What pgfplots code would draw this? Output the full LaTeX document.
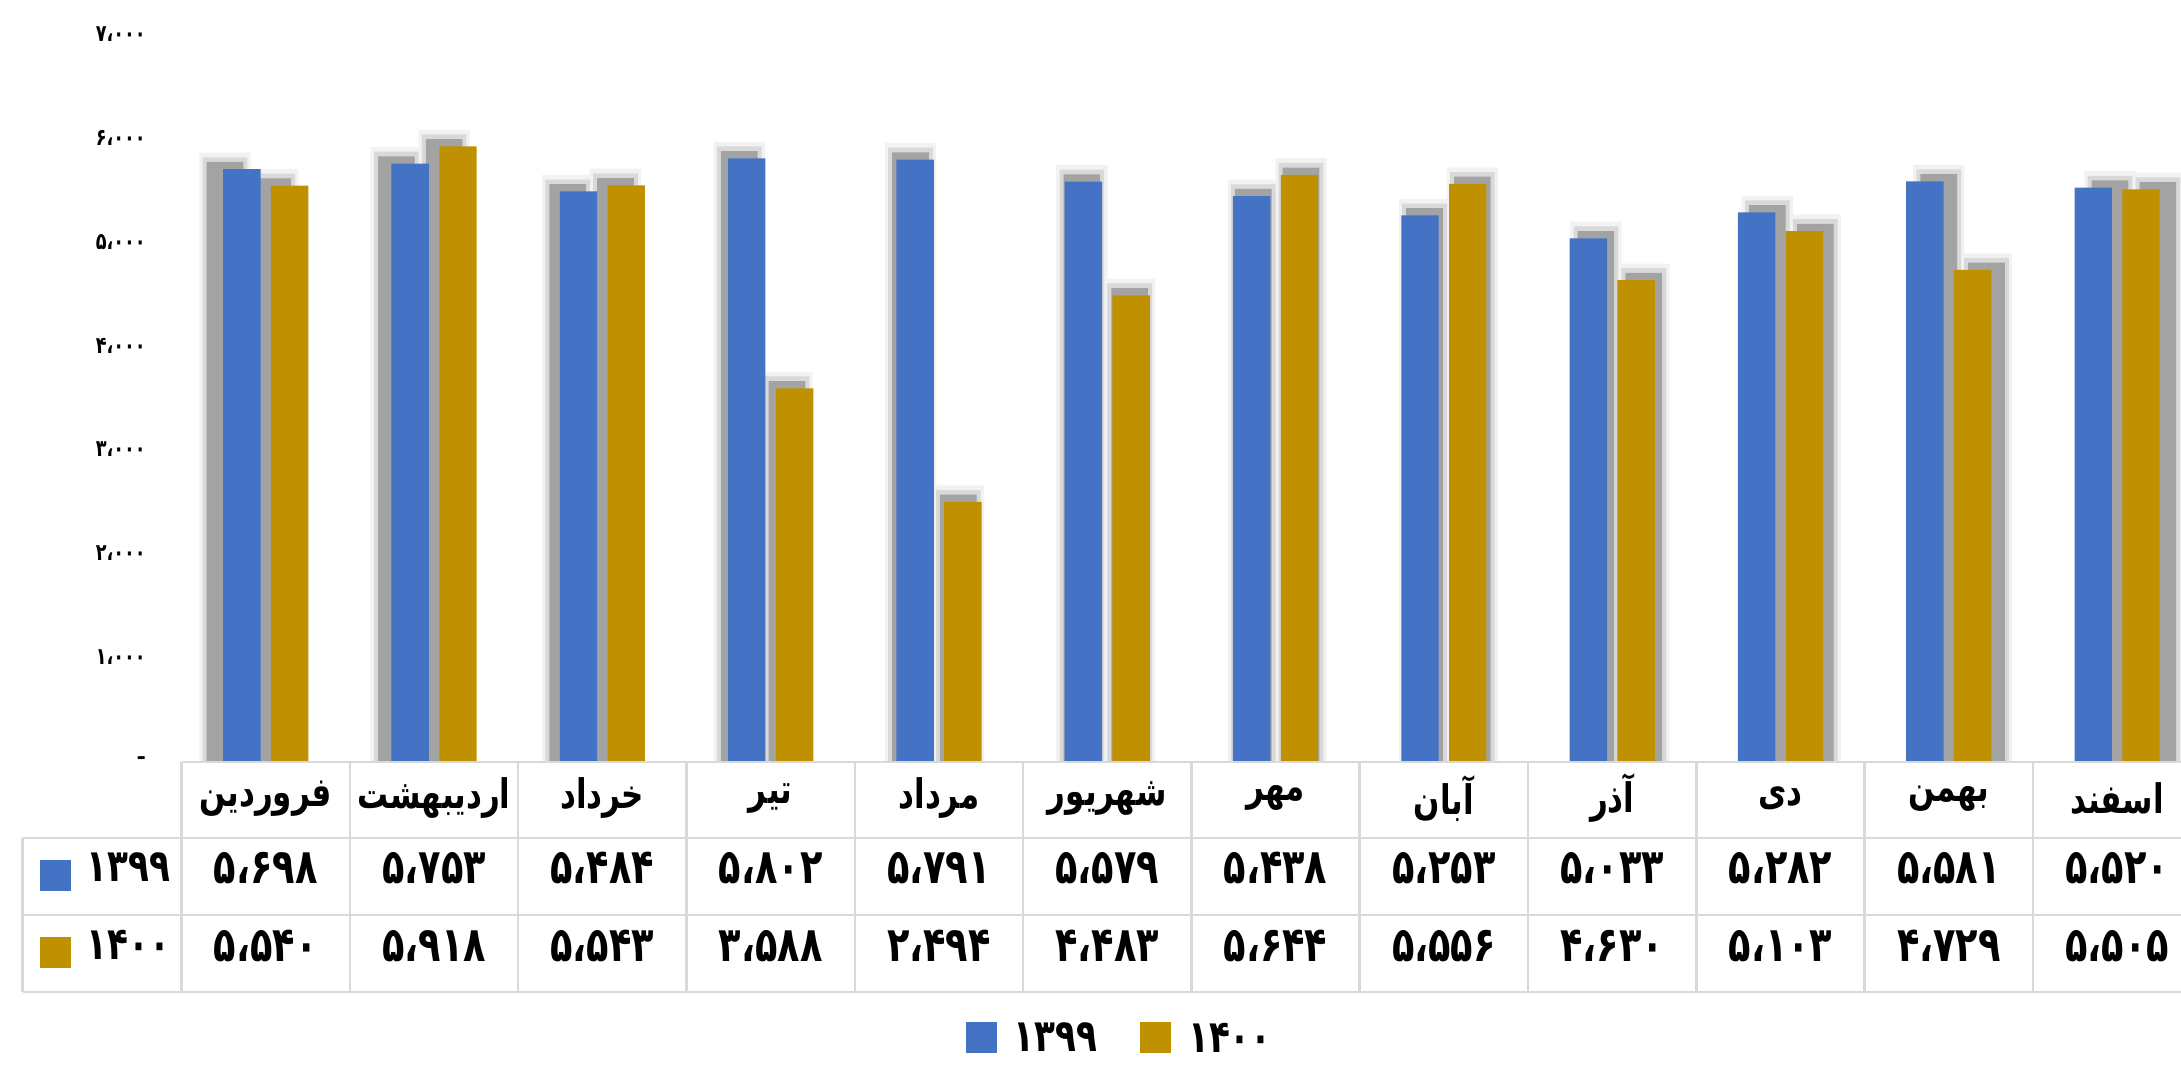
\documentclass[border=0pt]{standalone}
\usepackage{pgfplots}
\pgfplotsset{compat=1.18}
\usepackage{pgfplotstable}
\usepackage{fontspec}
\setmainfont{DejaVu Sans}
\TeXXeTstate=1
\newfontfamily\fa[Script=Arabic,FakeStretch=0.76]{DejaVu Sans}
\newcommand\valfont{\fa\bfseries\fontsize{14.5}{16}\selectfont}
\newcommand\headfont{\fa\bfseries\fontsize{12.2}{14}\selectfont}
\newcommand\legfont{\fa\bfseries\fontsize{13.5}{15}\selectfont}
\newcommand\tickfont{\fa\bfseries\fontsize{7}{8}\selectfont}
\definecolor{c99}{HTML}{4472C4}
\definecolor{c00}{HTML}{BF9000}
\definecolor{shA}{HTML}{F2F2F2}
\definecolor{shB}{HTML}{D9D9D9}
\definecolor{shC}{HTML}{A3A3A3}
\definecolor{gridc}{HTML}{D9D9D9}

\pgfplotstableread{
x a b
0 5698 5540
1 5753 5918
2 5484 5543
3 5802 3588
4 5791 2494
5 5579 4483
6 5438 5644
7 5253 5556
8 5033 4630
9 5282 5103
10 5581 4729
11 5520 5505
}\data

% shadow positions (perspective offset from the centre)
\pgfplotstableread{
x a b
-0.100 5698 5540
0.918 5753 5918
1.936 5484 5543
2.955 5802 3588
3.973 5791 2494
4.991 5579 4483
6.009 5438 5644
7.027 5253 5556
8.045 5033 4630
9.064 5282 5103
10.082 5581 4729
11.100 5520 5505
}\shadow

\begin{document}
\begin{tikzpicture}
\begin{axis}[
  at={(0pt,0pt)}, anchor=south west,
  scale only axis, width=605.9pt, height=218.1pt,
  xmin=-0.5, xmax=11.5, ymin=0, ymax=7000,
  clip=false,
  axis line style={draw=none},
  tick style={draw=none},
  xtick={0,...,11},
  xticklabels={{\beginR فروردین\endR},{\beginR اردیبهشت\endR},{\beginR خرداد\endR},{\beginR تیر\endR},{\beginR مرداد\endR},{\beginR شهریور\endR},{\beginR مهر\endR},{\beginR آبان\endR},{\beginR آذر\endR},{\beginR دی\endR},{\beginR بهمن\endR},{\beginR اسفند\endR}},
  xticklabel style={anchor=center, yshift=-11.2pt, font=\headfont},
  ytick={0,1000,2000,3000,4000,5000,6000,7000},
  yticklabels={{–\hspace{3.3pt}},{۱،۰۰۰},{۲،۰۰۰},{۳،۰۰۰},{۴،۰۰۰},{۵،۰۰۰},{۶،۰۰۰},{۷،۰۰۰}},
  yticklabel style={font=\tickfont, xshift=-7.2pt},
  legend style={draw=none, fill=none, font=\legfont, legend columns=2,
    at={(axis description cs:0.4657,-0.3838)}, anchor=center,
    /tikz/every odd column/.append style={column sep=3pt},
    /tikz/every even column/.append style={column sep=11pt}},
]
% shadows
\addplot[ybar, forget plot, fill=shA, draw=none, bar width=15.4pt, bar shift=-7.17pt] table[x=x, y expr=\thisrow{a}+160] {\shadow};
\addplot[ybar, forget plot, fill=shA, draw=none, bar width=15.4pt, bar shift=7.17pt] table[x=x, y expr=\thisrow{b}+160] {\shadow};
\addplot[ybar, forget plot, fill=shB, draw=none, bar width=13.4pt, bar shift=-7.17pt] table[x=x, y expr=\thisrow{a}+115] {\shadow};
\addplot[ybar, forget plot, fill=shB, draw=none, bar width=13.4pt, bar shift=7.17pt] table[x=x, y expr=\thisrow{b}+115] {\shadow};
\addplot[ybar, forget plot, fill=shC, draw=none, bar width=11.0pt, bar shift=-7.17pt] table[x=x, y expr=\thisrow{a}+70] {\shadow};
\addplot[ybar, forget plot, fill=shC, draw=none, bar width=11.0pt, bar shift=7.17pt] table[x=x, y expr=\thisrow{b}+70] {\shadow};
% bars
\addplot[ybar, fill=c99, draw=none, bar width=11.22pt, bar shift=-7.17pt,
  legend image code/.code={\fill[c99] (0pt,-3.9pt) rectangle (9.3pt,5.4pt);}] table[x=x, y=a] {\data};
\addlegendentry{۱۳۹۹}
\addplot[ybar, fill=c00, draw=none, bar width=11.22pt, bar shift=7.17pt,
  legend image code/.code={\fill[c00] (0pt,-3.9pt) rectangle (9.3pt,5.4pt);}] table[x=x, y=b] {\data};
\addlegendentry{۱۴۰۰}
\end{axis}

\begin{scope}[x=0.3pt,y=-0.3pt,shift={(-54.48pt,228.3pt)}]
  % table grid
  \draw[gridc, line width=0.75pt] (181.6,762) -- (2200,762);
  \foreach \yy in {838,915,992} \draw[gridc, line width=0.75pt] (22.7,\yy) -- (2200,\yy);
  \draw[gridc, line width=0.75pt] (22.7,838) -- (22.7,992);
  \foreach \k in {0,...,11} \draw[gridc, line width=0.75pt] ({181.6+168.3*\k},762) -- ({181.6+168.3*\k},992);
  % row keys
  \fill[c99] (40,860) rectangle (71,891);
  \fill[c00] (40,937) rectangle (71,968);
  \node[font=\legfont, anchor=west, inner sep=0pt] at (86,867) {۱۳۹۹};
  \node[font=\legfont, anchor=west, inner sep=0pt] at (86,945) {۱۴۰۰};
  % values
  \foreach \v [count=\i from 0] in {۵،۶۹۸,۵،۷۵۳,۵،۴۸۴,۵،۸۰۲,۵،۷۹۱,۵،۵۷۹,۵،۴۳۸,۵،۲۵۳,۵،۰۳۳,۵،۲۸۲,۵،۵۸۱,۵،۵۲۰}
    \node[font=\valfont, inner sep=0pt] at ({265.8+168.3*\i},868) {\v};
  \foreach \v [count=\i from 0] in {۵،۵۴۰,۵،۹۱۸,۵،۵۴۳,۳،۵۸۸,۲،۴۹۴,۴،۴۸۳,۵،۶۴۴,۵،۵۵۶,۴،۶۳۰,۵،۱۰۳,۴،۷۲۹,۵،۵۰۵}
    \node[font=\valfont, inner sep=0pt] at ({265.8+168.3*\i},946) {\v};
\end{scope}
\pgfresetboundingbox
\path[use as bounding box] (-54.48pt,228.3pt) rectangle (599.82pt,-91.2pt);
\end{tikzpicture}
\end{document}
